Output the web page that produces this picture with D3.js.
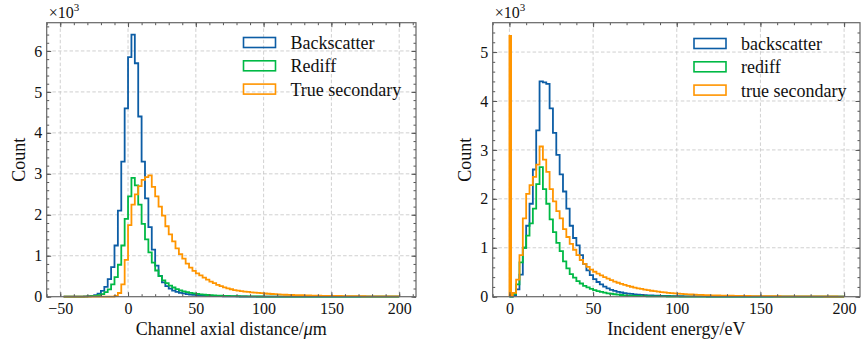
<!DOCTYPE html>
<html>
<head>
<meta charset="utf-8">
<script src="https://cdn.jsdelivr.net/npm/d3@7"></script>
</head>
<body style="margin:0">
<div id="chart"></div>
<script>
// ---- dades ----
// panell esquerre: bins de 2.5 um entre -47.5 i 200
const leftEdges = d3.range(-47.5, 200.01, 2.5);
const leftBackscatter = [
  0, 0, 0, 1, 2, 4, 7, 12, 22, 40,
  75, 140, 240, 430, 720, 1250, 2100, 3300, 4600, 5850,
  6400, 5700, 4400, 3300, 2400, 1700, 1150, 760, 510, 350,
  260, 195, 150, 120, 97, 80, 65, 53, 44, 37,
  31, 26, 22, 19, 16, 14, 12, 10, 9, 8,
  7, 6, 5, 5, 4, 4, 3, 3, 3, 2,
  2, 2, 2, 1, 1, 1, 1, 1, 1, 1,
  1, 1, 0, 0, 0, 0, 0, 0, 0, 0,
  0, 0, 0, 0, 0, 0, 0, 0, 0, 0,
  0, 0, 0, 0, 0, 0, 0, 0, 0
];
const leftRediff = [
  0, 0, 0, 0, 1, 2, 4, 7, 12, 20,
  38, 65, 110, 180, 300, 480, 780, 1250, 1900, 2450,
  2900, 2720, 2250, 1780, 1400, 1080, 830, 640, 500, 400,
  330, 270, 225, 185, 155, 130, 110, 93, 79, 67,
  57, 49, 42, 36, 31, 27, 23, 20, 17, 15,
  13, 11, 10, 9, 8, 7, 6, 5, 5, 4,
  4, 3, 3, 3, 2, 2, 2, 2, 1, 1,
  1, 1, 1, 1, 0, 0, 0, 0, 0, 0,
  0, 0, 0, 0, 0, 0, 0, 0, 0, 0,
  0, 0, 0, 0, 0, 0, 0, 0, 0
];
const leftTrueSecondary = [
  0, 0, 0, 0, 0, 0, 0, 0, 0, 0,
  0, 0, 0, 0, 3, 20, 90, 300, 900, 1750,
  2250, 2500, 2700, 2850, 2920, 2960, 2680, 2450, 2200, 1980,
  1720, 1520, 1350, 1180, 1040, 930, 810, 710, 630, 570,
  520, 465, 415, 370, 330, 290, 260, 230, 205, 182,
  162, 148, 136, 126, 117, 108, 100, 92, 85, 78,
  72, 66, 61, 56, 52, 48, 45, 42, 40, 37,
  35, 32, 30, 28, 26, 24, 22, 21, 20, 19,
  18, 17, 16, 15, 14, 13, 12, 12, 11, 10,
  10, 9, 9, 8, 8, 7, 7, 7, 6
];

// panell dret: primer bin partit en dos (pic a 0 eV), despres bins de 2 eV
const rightEdges = [0, 1].concat(d3.range(2, 200.01, 2));
const rightBackscatter = [
  0, 0,
  30, 150, 450, 1000, 1450, 1900, 2600, 3400, 4400, 4380,
  4350, 3850, 3350, 2900, 2500, 2150, 1800, 1450, 1200, 1050,
  850, 670, 540, 440, 360, 300, 250, 205, 170,
  140, 118, 100, 86, 74, 64, 56, 49, 43, 38,
  33, 29, 26, 23, 20, 18, 16, 14, 12, 11,
  10, 9, 8, 7, 7, 6, 6, 5, 5, 4,
  4, 4, 3, 3, 3, 3, 2, 2, 2, 2,
  2, 2, 1, 1, 1, 1, 1, 1, 1, 1,
  1, 1, 1, 0, 0, 0, 0, 0, 0, 0,
  0, 0, 0, 0, 0, 0, 0, 0, 0, 0
];
const rightRediff = [
  0, 0,
  60, 250, 700, 1000, 1250, 1500, 1800, 2300, 2650, 2200,
  1900, 1580, 1320, 1100, 930, 720, 580, 460, 390, 320,
  270, 220, 190, 160, 135, 115, 97, 83, 70, 60,
  50, 42, 35, 29, 24, 20, 17, 14, 12, 10,
  9, 8, 7, 6, 5, 5, 4, 4, 3, 3,
  3, 3, 2, 2, 2, 2, 2, 1, 1, 1,
  1, 1, 1, 1, 1, 1, 1, 1, 0, 0,
  0, 0, 0, 0, 0, 0, 0, 0, 0, 0,
  0, 0, 0, 0, 0, 0, 0, 0, 0, 0,
  0, 0, 0, 0, 0, 0, 0, 0, 0
];
const rightTrueSecondary = [
  5330, 10,
  80, 350, 850, 1600, 2100, 2280, 2450, 2700, 3070,
  2800, 2550, 2200, 1950, 1750, 1600, 1380, 1220, 1080, 960,
  850, 750, 670, 610, 555, 510, 470, 435, 400, 370,
  340, 310, 285, 262, 240, 220, 203, 187, 172, 158,
  145, 133, 122, 112, 103, 95, 87, 80, 74, 68,
  62, 57, 53, 49, 45, 42, 39, 36, 33, 31,
  29, 27, 25, 23, 22, 20, 19, 18, 17, 16,
  15, 14, 13, 13, 12, 11, 11, 10, 10, 9,
  9, 8, 8, 8, 7, 7, 7, 6, 6, 6,
  5, 5, 5, 5, 4, 4, 4, 4, 3, 3
];

// etiquetes i ticks
const leftLabels = ["Backscatter", "Rediff", "True secondary"];
const rightLabels = ["backscatter", "rediff", "true secondary"];
const leftXTicks = [-50, 0, 50, 100, 150, 200];
const rightXTicks = [0, 50, 100, 150, 200];
const leftYTicks = [0, 1000, 2000, 3000, 4000, 5000, 6000];
const rightYTicks = [0, 1000, 2000, 3000, 4000, 5000];
const colors = ["#0C5DA5", "#00B945", "#FF9500"];

const svg = d3.select("#chart").append("svg")
    .attr("width", 862)
    .attr("height", 347)
    .attr("font-family", "Liberation Serif");

// text en serif
function serifText(sel, size) {
    return sel.attr("font-family", "Liberation Serif").attr("font-size", size).attr("fill", "#111");
}

function drawPanel(p) {
    const x = d3.scaleLinear().domain(p.xDomain).range([p.left, p.right]);
    const y = d3.scaleLinear().domain(p.yDomain).range([p.bottom, p.top]);
    const g = svg.append("g");

    // graella
    g.append("g").selectAll("line")
        .data(p.xTicks)
        .join("line")
            .attr("x1", d => x(d)).attr("x2", d => x(d))
            .attr("y1", p.top).attr("y2", p.bottom)
            .attr("stroke", "#c4c4c4")
            .attr("stroke-width", 0.8)
            .attr("stroke-dasharray", "3.5,2.2");
    g.append("g").selectAll("line")
        .data(p.yTicks.filter(d => d > 0))
        .join("line")
            .attr("x1", p.left).attr("x2", p.right)
            .attr("y1", d => y(d)).attr("y2", d => y(d))
            .attr("stroke", "#c4c4c4")
            .attr("stroke-width", 0.8)
            .attr("stroke-dasharray", "3.5,2.2");

    // histogrames en esglao
    const line = d3.line().x(d => x(d[0])).y(d => y(d[1]));
    p.series.forEach(function(vals, k) {
        const pts = [[p.edges[0], 0]];
        vals.forEach(function(v, i) {
            pts.push([p.edges[i], v]);
            pts.push([p.edges[i + 1], v]);
        });
        pts.push([p.edges[p.edges.length - 1], 0]);
        g.append("path")
            .attr("d", line(pts))
            .attr("fill", "none")
            .attr("stroke", colors[k])
            .attr("stroke-width", 1.8)
            .attr("stroke-linejoin", "miter");
    });

    // eixos: ticks cap a dins als quatre costats
    const xMinor = d3.range(Math.ceil(p.xDomain[0] / 10) * 10, p.xDomain[1], 10);
    const yMinor = d3.range(0, p.yDomain[1], 200);
    const fmtY = d => d / 1000;
    function styleAxis(sel) {
        sel.select(".domain").remove();
        sel.selectAll("line").attr("stroke", "#555");
        sel.call(serifText, 16).attr("fill", null);
        sel.selectAll("text").call(serifText, 16);
    }
    g.append("g").attr("transform", `translate(0,${p.bottom})`)
        .call(d3.axisBottom(x).tickValues(p.xTicks).tickSize(-4.5).tickPadding(6).tickFormat(d3.format("d")))
        .call(styleAxis);
    g.append("g").attr("transform", `translate(0,${p.bottom})`)
        .call(d3.axisBottom(x).tickValues(xMinor).tickSize(-2.5).tickFormat(""))
        .call(styleAxis);
    g.append("g").attr("transform", `translate(0,${p.top})`)
        .call(d3.axisTop(x).tickValues(p.xTicks).tickSize(-4.5).tickFormat(""))
        .call(styleAxis);
    g.append("g").attr("transform", `translate(0,${p.top})`)
        .call(d3.axisTop(x).tickValues(xMinor).tickSize(-2.5).tickFormat(""))
        .call(styleAxis);
    g.append("g").attr("transform", `translate(${p.left},0)`)
        .call(d3.axisLeft(y).tickValues(p.yTicks).tickSize(-4.5).tickPadding(4.5).tickFormat(fmtY))
        .call(styleAxis);
    g.append("g").attr("transform", `translate(${p.left},0)`)
        .call(d3.axisLeft(y).tickValues(yMinor).tickSize(-2.5).tickFormat(""))
        .call(styleAxis);
    g.append("g").attr("transform", `translate(${p.right},0)`)
        .call(d3.axisRight(y).tickValues(p.yTicks).tickSize(-4.5).tickFormat(""))
        .call(styleAxis);
    g.append("g").attr("transform", `translate(${p.right},0)`)
        .call(d3.axisRight(y).tickValues(yMinor).tickSize(-2.5).tickFormat(""))
        .call(styleAxis);

    // marc
    g.append("rect")
        .attr("x", p.left).attr("y", p.top)
        .attr("width", p.right - p.left).attr("height", p.bottom - p.top)
        .attr("fill", "none")
        .attr("stroke", "#666")
        .attr("stroke-width", 1.2);

    // multiplicador x10^3
    const mult = g.append("text")
        .attr("x", p.left + 2).attr("y", 18)
        .call(serifText, 16);
    mult.append("tspan").text("×10");
    mult.append("tspan").attr("dy", -7).attr("font-size", 11).text("3");

    // titols dels eixos
    g.append("text")
        .attr("transform", `translate(${p.left - 21.5},${(p.top + p.bottom) / 2}) rotate(-90)`)
        .attr("text-anchor", "middle")
        .call(serifText, 18)
        .text("Count");
    const xl = g.append("text")
        .attr("x", (p.left + p.right) / 2)
        .attr("y", 335)
        .attr("text-anchor", "middle")
        .call(serifText, 18);
    xl.append("tspan").text(p.xLabel[0]);
    if (p.xLabel[1]) xl.append("tspan").attr("font-style", "italic").text(p.xLabel[1]);
    if (p.xLabel[2]) xl.append("tspan").text(p.xLabel[2]);

    // llegenda
    p.labels.forEach(function(lab, k) {
        const cy = p.legendY + k * 23.3;
        g.append("rect")
            .attr("x", p.legendX).attr("y", cy - 5)
            .attr("width", 32).attr("height", 10)
            .attr("fill", "none")
            .attr("stroke", colors[k])
            .attr("stroke-width", 1.6);
        g.append("text")
            .attr("x", p.legendX + 47).attr("y", cy + 6.5)
            .call(serifText, 18)
            .text(lab);
    });
}

drawPanel({
    left: 46.7, right: 416, top: 22.7, bottom: 296.7,
    xDomain: [-60, 212.4], yDomain: [0, 6690],
    edges: leftEdges,
    series: [leftBackscatter, leftRediff, leftTrueSecondary],
    labels: leftLabels,
    xTicks: leftXTicks, yTicks: leftYTicks,
    xLabel: ["Channel axial distance/", "μ", "m"],
    legendX: 243.5, legendY: 42.5
});

drawPanel({
    left: 492.7, right: 860, top: 22.7, bottom: 296.7,
    xDomain: [-10, 209.5], yDomain: [0, 5600],
    edges: rightEdges,
    series: [rightBackscatter, rightRediff, rightTrueSecondary],
    labels: rightLabels,
    xTicks: rightXTicks, yTicks: rightYTicks,
    xLabel: ["Incident energy/eV"],
    legendX: 694, legendY: 43.5
});
</script>
</body>
</html>
